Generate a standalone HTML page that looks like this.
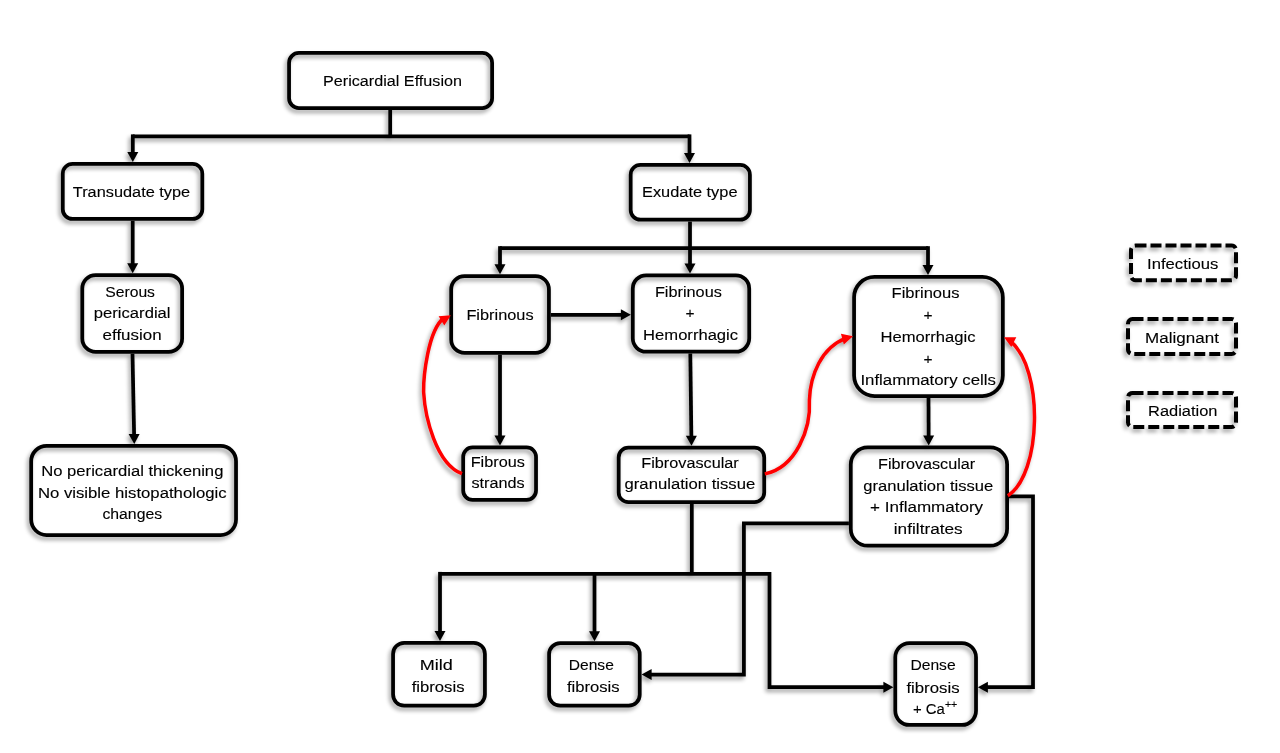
<!DOCTYPE html>
<html><head><meta charset="utf-8"><style>
html,body{margin:0;padding:0;background:#fff;}
svg{display:block;}
text{font-family:"Liberation Sans",sans-serif;font-size:15.5px;fill:#000;stroke:#000;stroke-width:0.12px;text-anchor:middle;}
</style></head><body>
<svg width="1280" height="753" viewBox="0 0 1280 753">
<defs>
<filter id="sh" x="-5%" y="-5%" width="110%" height="110%">
<feGaussianBlur in="SourceAlpha" stdDeviation="2"/>
<feOffset dx="-2" dy="2.8" result="b"/>
<feComponentTransfer><feFuncA type="linear" slope="0.38"/></feComponentTransfer>
<feMerge><feMergeNode/><feMergeNode in="SourceGraphic"/></feMerge>
</filter>
</defs>
<rect width="1280" height="753" fill="#fff"/>
<g filter="url(#sh)">
<rect x="289.07" y="52.98" width="203.05" height="55.05" rx="9.80" ry="9.80" fill="none" stroke="#000" stroke-width="3.75"/>
<rect x="62.77" y="163.88" width="139.55" height="55.05" rx="9.80" ry="9.80" fill="none" stroke="#000" stroke-width="3.75"/>
<rect x="82.28" y="275.07" width="99.85" height="76.75" rx="13.42" ry="13.42" fill="none" stroke="#000" stroke-width="3.75"/>
<rect x="31.18" y="445.88" width="204.85" height="89.15" rx="15.49" ry="15.49" fill="none" stroke="#000" stroke-width="3.75"/>
<rect x="630.67" y="164.88" width="119.25" height="54.85" rx="9.77" ry="9.77" fill="none" stroke="#000" stroke-width="3.75"/>
<rect x="451.18" y="276.07" width="97.75" height="76.75" rx="13.42" ry="13.42" fill="none" stroke="#000" stroke-width="3.75"/>
<rect x="632.77" y="275.27" width="116.45" height="76.45" rx="13.37" ry="13.37" fill="none" stroke="#000" stroke-width="3.75"/>
<rect x="854.08" y="276.88" width="148.75" height="119.15" rx="20.49" ry="20.49" fill="none" stroke="#000" stroke-width="3.75"/>
<rect x="463.18" y="447.48" width="72.85" height="52.45" rx="9.37" ry="9.37" fill="none" stroke="#000" stroke-width="3.75"/>
<rect x="618.67" y="447.68" width="145.55" height="54.45" rx="9.70" ry="9.70" fill="none" stroke="#000" stroke-width="3.75"/>
<rect x="850.77" y="447.48" width="156.35" height="98.25" rx="17.00" ry="17.00" fill="none" stroke="#000" stroke-width="3.75"/>
<rect x="393.07" y="642.77" width="91.85" height="62.95" rx="11.12" ry="11.12" fill="none" stroke="#000" stroke-width="3.75"/>
<rect x="549.08" y="643.08" width="90.65" height="62.65" rx="11.07" ry="11.07" fill="none" stroke="#000" stroke-width="3.75"/>
<rect x="895.27" y="643.08" width="80.75" height="81.85" rx="14.09" ry="14.09" fill="none" stroke="#000" stroke-width="3.75"/>
<rect x="1131.00" y="245.60" width="105.00" height="34.60" rx="4.50" ry="4.50" fill="none" stroke="#000" stroke-width="4" stroke-dasharray="11 4"/>
<rect x="1128.00" y="319.00" width="108.00" height="35.00" rx="4.50" ry="4.50" fill="none" stroke="#000" stroke-width="4" stroke-dasharray="11 4"/>
<rect x="1128.00" y="393.00" width="108.00" height="34.00" rx="4.50" ry="4.50" fill="none" stroke="#000" stroke-width="4" stroke-dasharray="11 4"/>
<path d="M390.2,109.9 L390.2,136.3" fill="none" stroke="#000" stroke-width="3.75"/>
<path d="M132.8,136.3 L689.5,136.3" fill="none" stroke="#000" stroke-width="3.75"/>
<path d="M690,221.6 L690,248.2" fill="none" stroke="#000" stroke-width="3.75"/>
<path d="M500,248.1 L928,248.1" fill="none" stroke="#000" stroke-width="3.75"/>
<path d="M691.8,504 L691.8,574" fill="none" stroke="#000" stroke-width="3.75"/>
<path d="M440,573.8 L769.5,573.8" fill="none" stroke="#000" stroke-width="3.75"/>
<path d="M132.80,134.40 L132.80,156.00" fill="none" stroke="#000" stroke-width="3.75"/>
<path d="M132.80,162.00 L127.30,152.00 L138.30,152.00 Z" fill="#000"/>
<path d="M689.50,134.40 L689.50,157.00" fill="none" stroke="#000" stroke-width="3.75"/>
<path d="M689.50,163.00 L684.00,153.00 L695.00,153.00 Z" fill="#000"/>
<path d="M132.70,220.80 L132.70,267.20" fill="none" stroke="#000" stroke-width="3.75"/>
<path d="M132.70,273.20 L127.20,263.20 L138.20,263.20 Z" fill="#000"/>
<path d="M132.50,353.70 L134.18,438.00" fill="none" stroke="#000" stroke-width="3.75"/>
<path d="M134.30,444.00 L128.60,434.11 L139.60,433.89 Z" fill="#000"/>
<path d="M500.00,246.20 L500.00,268.20" fill="none" stroke="#000" stroke-width="3.75"/>
<path d="M500.00,274.20 L494.50,264.20 L505.50,264.20 Z" fill="#000"/>
<path d="M690.00,248.00 L690.00,267.40" fill="none" stroke="#000" stroke-width="3.75"/>
<path d="M690.00,273.40 L684.50,263.40 L695.50,263.40 Z" fill="#000"/>
<path d="M928.00,246.20 L928.00,269.00" fill="none" stroke="#000" stroke-width="3.75"/>
<path d="M928.00,275.00 L922.50,265.00 L933.50,265.00 Z" fill="#000"/>
<path d="M550.80,314.80 L624.90,314.80" fill="none" stroke="#000" stroke-width="3.75"/>
<path d="M630.90,314.80 L620.90,320.30 L620.90,309.30 Z" fill="#000"/>
<path d="M500.00,354.70 L500.00,439.60" fill="none" stroke="#000" stroke-width="3.75"/>
<path d="M500.00,445.60 L494.50,435.60 L505.50,435.60 Z" fill="#000"/>
<path d="M690.30,353.60 L691.42,439.80" fill="none" stroke="#000" stroke-width="3.75"/>
<path d="M691.50,445.80 L685.87,435.87 L696.87,435.73 Z" fill="#000"/>
<path d="M928.50,397.90 L928.67,439.60" fill="none" stroke="#000" stroke-width="3.75"/>
<path d="M928.70,445.60 L923.16,435.62 L934.16,435.58 Z" fill="#000"/>
<path d="M440.00,571.90 L440.00,634.90" fill="none" stroke="#000" stroke-width="3.75"/>
<path d="M440.00,640.90 L434.50,630.90 L445.50,630.90 Z" fill="#000"/>
<path d="M594.50,573.80 L594.50,635.20" fill="none" stroke="#000" stroke-width="3.75"/>
<path d="M594.50,641.20 L589.00,631.20 L600.00,631.20 Z" fill="#000"/>
<path d="M769.50,571.90 L769.50,687.20 L887.40,687.20" fill="none" stroke="#000" stroke-width="3.75"/>
<path d="M893.40,687.20 L883.40,692.70 L883.40,681.70 Z" fill="#000"/>
<path d="M848.90,523.30 L743.90,523.30 L743.90,674.60 L647.60,674.60" fill="none" stroke="#000" stroke-width="3.75"/>
<path d="M641.60,674.60 L651.60,669.10 L651.60,680.10 Z" fill="#000"/>
<path d="M1009.00,496.30 L1033.00,496.30 L1033.00,687.20 L983.90,687.20" fill="none" stroke="#000" stroke-width="3.75"/>
<path d="M977.90,687.20 L987.90,681.70 L987.90,692.70 Z" fill="#000"/>
<path d="M462.00,473.70 C435.90,463.70 425.00,416.50 423.60,392.00 C423.34,377.80 427.89,330.07 443.86,317.98" fill="none" stroke="#ff0000" stroke-width="3.5"/>
<path d="M450.90,315.20 L444.30,325.58 L438.64,316.15 Z" fill="#ff0000"/>
<path d="M764.80,473.90 C796.10,467.50 811.10,428.70 809.40,400.00 C810.22,375.17 821.46,347.33 845.71,338.34" fill="none" stroke="#ff0000" stroke-width="3.5"/>
<path d="M853.00,336.30 L843.80,344.46 L840.95,333.84 Z" fill="#ff0000"/>
<path d="M1007.80,495.80 C1041.78,474.28 1044.04,368.63 1010.37,341.22" fill="none" stroke="#ff0000" stroke-width="3.5"/>
<path d="M1004.00,337.20 L1016.30,337.26 L1011.33,347.07 Z" fill="#ff0000"/>
</g>
<g opacity="0.999">
<text x="392.5" y="85.9" textLength="138.9" lengthAdjust="spacingAndGlyphs">Pericardial Effusion</text>
<text x="131.5" y="196.8" textLength="117.4" lengthAdjust="spacingAndGlyphs">Transudate type</text>
<text x="130.1" y="296.6" textLength="49.8" lengthAdjust="spacingAndGlyphs">Serous</text>
<text x="132.2" y="318.0" textLength="76.7" lengthAdjust="spacingAndGlyphs">pericardial</text>
<text x="132.1" y="339.5" textLength="59.0" lengthAdjust="spacingAndGlyphs">effusion</text>
<text x="132.3" y="476.0" textLength="182.2" lengthAdjust="spacingAndGlyphs">No pericardial thickening</text>
<text x="132.25" y="497.9" textLength="188.7" lengthAdjust="spacingAndGlyphs">No visible histopathologic</text>
<text x="132.25" y="519.0" textLength="59.7" lengthAdjust="spacingAndGlyphs">changes</text>
<text x="689.75" y="196.7" textLength="95.5" lengthAdjust="spacingAndGlyphs">Exudate type</text>
<text x="500" y="319.5" textLength="67.2" lengthAdjust="spacingAndGlyphs">Fibrinous</text>
<text x="688.4" y="296.75" textLength="67.0" lengthAdjust="spacingAndGlyphs">Fibrinous</text>
<text x="690" y="318.4">+</text>
<text x="690.6" y="340.0" textLength="95.0" lengthAdjust="spacingAndGlyphs">Hemorrhagic</text>
<text x="925.5" y="298.1" textLength="67.9" lengthAdjust="spacingAndGlyphs">Fibrinous</text>
<text x="928" y="319.8">+</text>
<text x="928" y="341.9" textLength="95.1" lengthAdjust="spacingAndGlyphs">Hemorrhagic</text>
<text x="928" y="363.5">+</text>
<text x="928.2" y="384.9" textLength="135.6" lengthAdjust="spacingAndGlyphs">Inflammatory cells</text>
<text x="497.8" y="467.3" textLength="54.2" lengthAdjust="spacingAndGlyphs">Fibrous</text>
<text x="498" y="488.2" textLength="53.2" lengthAdjust="spacingAndGlyphs">strands</text>
<text x="690" y="467.8" textLength="97.5" lengthAdjust="spacingAndGlyphs">Fibrovascular</text>
<text x="689.9" y="488.6" textLength="130.7" lengthAdjust="spacingAndGlyphs">granulation tissue</text>
<text x="926.6" y="469.0" textLength="97.2" lengthAdjust="spacingAndGlyphs">Fibrovascular</text>
<text x="928.25" y="490.5" textLength="129.9" lengthAdjust="spacingAndGlyphs">granulation tissue</text>
<text x="926.6" y="512.0" textLength="113.0" lengthAdjust="spacingAndGlyphs">+ Inflammatory</text>
<text x="928.25" y="534.3" textLength="68.9" lengthAdjust="spacingAndGlyphs">infiltrates</text>
<text x="436.25" y="670.2" textLength="33.1" lengthAdjust="spacingAndGlyphs">Mild</text>
<text x="438.1" y="691.7" textLength="52.8" lengthAdjust="spacingAndGlyphs">fibrosis</text>
<text x="591.3" y="670.0" textLength="45.0" lengthAdjust="spacingAndGlyphs">Dense</text>
<text x="593.25" y="691.7" textLength="52.7" lengthAdjust="spacingAndGlyphs">fibrosis</text>
<text x="933" y="669.9" textLength="45.2" lengthAdjust="spacingAndGlyphs">Dense</text>
<text x="933" y="692.5" textLength="53.2" lengthAdjust="spacingAndGlyphs">fibrosis</text>
<text x="1182.75" y="268.7" textLength="71.3" lengthAdjust="spacingAndGlyphs">Infectious</text>
<text x="1182" y="343.3" textLength="73.8" lengthAdjust="spacingAndGlyphs">Malignant</text>
<text x="1182.8" y="415.5" textLength="69.4" lengthAdjust="spacingAndGlyphs">Radiation</text>
<text x="935.15" y="714" textLength="44.3" lengthAdjust="spacingAndGlyphs">+ Ca<tspan dy="-6" font-size="11">++</tspan></text>
</g>
</svg>
</body></html>
